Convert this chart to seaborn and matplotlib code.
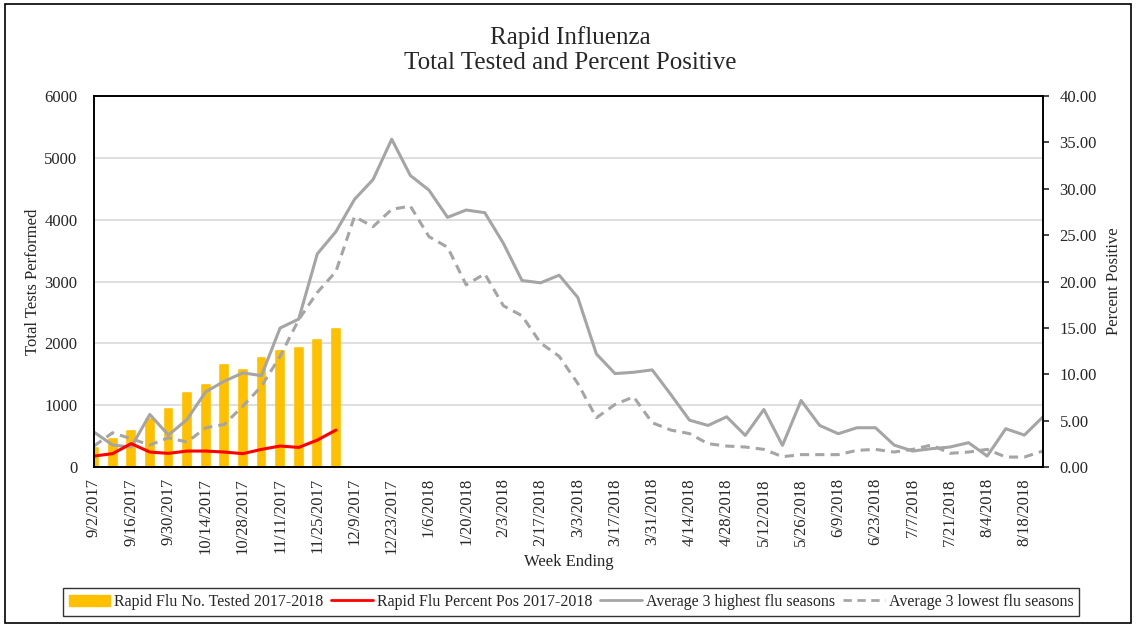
import numpy as np
import pandas as pd
import matplotlib
matplotlib.use("Agg")
import matplotlib.pyplot as plt
import seaborn as sns
from matplotlib.patches import Rectangle, Patch
from matplotlib.lines import Line2D

sns.set_style("white")
plt.rcParams['font.family'] = ['Liberation Serif', 'DejaVu Serif']

# week ending dates, 9/2/2017 .. 8/25/2018
weeks = pd.date_range("2017-09-02", "2018-08-25", freq="7D")
week_labels = [f"{d.month}/{d.day}/{d.year}" for d in weeks]

# 2017-2018 season so far
tested = [300, 450, 580, 770, 930, 1190, 1330, 1650, 1570, 1770, 1870, 1930, 2050, 2230]
pct_pos = [1.18, 1.44, 2.52, 1.61, 1.47, 1.72, 1.72, 1.61, 1.44, 1.90, 2.26, 2.11, 2.90, 3.98]

# averages of past seasons
avg_high = [565, 355, 323, 850, 516, 769, 1215, 1387, 1522, 1478, 2247, 2392, 3447, 3806,
            4328, 4650, 5301, 4715, 4478, 4038, 4156, 4113, 3618, 3016, 2979, 3102, 2742,
            1828, 1511, 1532, 1570, 1172, 758, 672, 812, 511, 930, 350, 1076, 672, 538,
            635, 635, 355, 258, 296, 323, 393, 177, 619, 516, 812]
avg_low = [339, 554, 457, 355, 473, 403, 634, 688, 984, 1306, 1790, 2382, 2823, 3161,
           4050, 3887, 4167, 4220, 3726, 3554, 2946, 3124, 2608, 2446, 2005, 1790, 1350,
           796, 1011, 1135, 716, 597, 540, 377, 339, 323, 285, 167, 200, 200, 200, 269,
           285, 242, 285, 355, 221, 242, 285, 161, 161, 258]

pos = np.arange(len(weeks))
bar_df = pd.DataFrame({"pos": pos[:len(tested)], "tested": tested})
line_df = pd.DataFrame({"pos": pos, "high": avg_high, "low": avg_low})
pct_df = pd.DataFrame({"pos": pos[:len(pct_pos)], "pct": pct_pos})

c_bar = "#FFC000"
c_red = "#FF0000"
c_gray = "#A5A5A5"
dash = (0, (3, 2))

fig = plt.figure(figsize=(11.36, 6.26), dpi=100)
ax = fig.add_axes([94 / 1136, 1 - 467 / 626, (1043 - 94) / 1136, (467 - 96) / 626])

sns.barplot(data=bar_df, x="pos", y="tested", native_scale=True, color=c_bar,
            width=0.42, ax=ax, saturation=1, edgecolor=c_bar, linewidth=1.2)
for p in ax.patches:
    p.set_joinstyle("round")

sns.lineplot(data=line_df, x="pos", y="high", color=c_gray, lw=2.2, ax=ax)
sns.lineplot(data=line_df, x="pos", y="low", color=c_gray, lw=2.2, ax=ax, linestyle=dash)

ax.set_xlim(0, len(weeks) - 1)
ax.set_ylim(0, 6000)
ax.set_yticks(range(0, 6001, 1000))
ax.set_yticklabels([str(v) for v in range(0, 6001, 1000)], fontsize=12)
ax.tick_params(axis="y", length=0, pad=12)
ax.set_xticks(pos[::2])
ax.set_xticklabels(week_labels[::2], rotation=90, fontsize=12)
ax.tick_params(axis="x", length=0, pad=8)
ax.grid(axis="y", color="#D9D9D9", lw=1.2)
ax.set_axisbelow(True)
for s in ax.spines.values():
    s.set_color("black")
    s.set_linewidth(1.2)
ax.set_xlabel("Week Ending", fontsize=12, labelpad=0)
ax.set_ylabel("Total Tests Performed", fontsize=12, labelpad=2)

ax2 = ax.twinx()
sns.lineplot(data=pct_df, x="pos", y="pct", color=c_red, lw=2.2, ax=ax2)
ax2.set_ylim(0, 40)
ax2.set_yticks(range(0, 41, 5))
ax2.set_yticklabels([f"{v:.2f}" for v in range(0, 41, 5)], fontsize=12)
ax2.tick_params(axis="y", length=4, width=1.2, pad=8, direction="out")
ax2.set_ylabel("Percent Positive", fontsize=12, labelpad=6)
ax2.grid(False)
for s in ax2.spines.values():
    s.set_color("black")
    s.set_linewidth(1.2)

fig.text(0.502, 1 - 38 / 626, "Rapid Influenza", ha="center", va="center", fontsize=18)
fig.text(0.502, 1 - 63 / 626, "Total Tested and Percent Positive", ha="center",
         va="center", fontsize=18)

handles = [
    Patch(facecolor=c_bar, edgecolor=c_bar),
    Line2D([], [], color=c_red, lw=2),
    Line2D([], [], color=c_gray, lw=2),
    Line2D([], [], color=c_gray, lw=2, linestyle=dash),
]
labels = ["Rapid Flu No. Tested 2017-2018", "Rapid Flu Percent Pos 2017-2018",
          "Average 3 highest flu seasons", "Average 3 lowest flu seasons"]
leg = fig.legend(handles, labels, loc="center", bbox_to_anchor=(571 / 1136, 1 - 602 / 626),
                 ncol=4, fontsize=11.5, frameon=True, fancybox=False, edgecolor="black",
                 handlelength=2.6, handletextpad=0.25, columnspacing=0.5,
                 borderpad=0.35, borderaxespad=0)
leg.get_frame().set_linewidth(1.0)

fig.patches.append(Rectangle((5 / 1136, 3 / 626), 1126 / 1136, 619 / 626, fill=False,
                             edgecolor="black", lw=1.2, transform=fig.transFigure))

fig.savefig("out.png", dpi=100)
